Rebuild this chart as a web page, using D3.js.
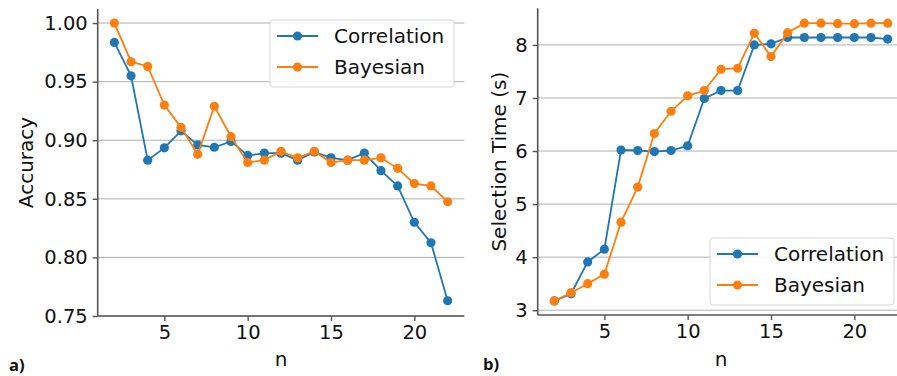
<!DOCTYPE html>
<html>
<head>
<meta charset="utf-8">
<script src="https://cdn.jsdelivr.net/npm/d3@7"></script>
<style>
  body { margin: 0; background: #fff; }
  text { font-family: "DejaVu Sans", sans-serif; fill: #111; }
</style>
</head>
<body>
<div id="chart"></div>
<script>
// data
var nValues = [2, 3, 4, 5, 6, 7, 8, 9, 10, 11, 12, 13, 14, 15, 16, 17, 18, 19, 20, 21, 22];

var accCorrelation = [0.9835, 0.955, 0.883, 0.8935, 0.908, 0.896, 0.894, 0.899, 0.887, 0.889, 0.889,
  0.883, 0.890, 0.885, 0.883, 0.889, 0.874, 0.861, 0.830, 0.8125, 0.763];
var accBayesian = [1.000, 0.967, 0.963, 0.930, 0.911, 0.888, 0.929, 0.903, 0.881, 0.883, 0.8905,
  0.885, 0.8905, 0.881, 0.883, 0.883, 0.885, 0.876, 0.863, 0.861, 0.8475];

var timeCorrelation = [3.175, 3.31, 3.91, 4.15, 6.02, 6.01, 5.99, 6.01, 6.10, 6.99, 7.14,
  7.14, 8.00, 8.02, 8.14, 8.14, 8.14, 8.14, 8.14, 8.14, 8.11];
var timeBayesian = [3.175, 3.33, 3.50, 3.68, 4.66, 5.32, 6.33, 6.75, 7.04, 7.14, 7.54,
  7.56, 8.22, 7.78, 8.23, 8.41, 8.41, 8.40, 8.40, 8.41, 8.41];

var xTicks = [5, 10, 15, 20];
var accTicks = [0.75, 0.80, 0.85, 0.90, 0.95, 1.00];
var timeTicks = [3, 4, 5, 6, 7, 8];
var seriesNames = ["Correlation", "Bayesian"];
var colors = ["#1f77b4", "#ff7f0e"];

var svg = d3.select("#chart")
  .append("svg")
  .attr("width", 897)
  .attr("height", 376);

let panel = (opt) => {
  var x = d3.scaleLinear().domain([1, 23]).range([opt.left, opt.right]);
  var y = d3.scaleLinear().domain(opt.yDomain).range([opt.bottom, opt.top]);
  var g = svg.append("g");

  // horizontal grid
  g.selectAll(".grid")
    .data(opt.yTicks)
    .enter().append("line")
    .attr("x1", opt.left)
    .attr("x2", opt.right)
    .attr("y1", d => y(d))
    .attr("y2", d => y(d))
    .style("stroke", "#b0b0b0")
    .style("stroke-width", 1);

  // axes
  var yAxis = g.append("g")
    .attr("transform", "translate(" + opt.left + ",0)")
    .call(d3.axisLeft(y).tickValues(opt.yTicks).tickFormat(opt.fmt).tickSize(5).tickPadding(5));
  var xAxis = g.append("g")
    .attr("transform", "translate(0," + opt.bottom + ")")
    .call(d3.axisBottom(x).tickValues(xTicks).tickFormat(d3.format("d")).tickSize(5).tickPadding(4));

  [xAxis, yAxis].forEach(a => {
    a.select(".domain").remove();
    a.selectAll("line").style("stroke", "#555").style("stroke-width", 1.4);
    a.selectAll("text")
      .style("font-family", "DejaVu Sans, sans-serif")
      .style("font-size", "19.5px")
      .style("fill", "#111");
  });

  // spines
  g.append("line")
    .attr("x1", opt.left).attr("x2", opt.left)
    .attr("y1", opt.top).attr("y2", opt.bottom)
    .style("stroke", "#555").style("stroke-width", 1.6);
  g.append("line")
    .attr("x1", opt.left).attr("x2", opt.right)
    .attr("y1", opt.bottom).attr("y2", opt.bottom)
    .style("stroke", "#555").style("stroke-width", 1.6);

  // series
  var line = d3.line().x((d, i) => x(nValues[i])).y(d => y(d));
  opt.series.forEach((s, k) => {
    g.append("path")
      .datum(s)
      .attr("d", line)
      .style("fill", "none")
      .style("stroke", colors[k])
      .style("stroke-width", 1.8);
    g.selectAll(".pt" + k)
      .data(s)
      .enter().append("circle")
      .attr("cx", (d, i) => x(nValues[i]))
      .attr("cy", d => y(d))
      .attr("r", 4.6)
      .style("fill", colors[k]);
  });

  // axis labels
  g.append("text")
    .attr("x", (opt.left + opt.right) / 2)
    .attr("y", 366)
    .attr("text-anchor", "middle")
    .style("font-size", "20px")
    .text("n");
  g.append("text")
    .attr("transform", "translate(" + opt.labelX + "," + ((opt.top + opt.bottom) / 2) + ") rotate(-90)")
    .attr("text-anchor", "middle")
    .style("font-size", "20px")
    .text(opt.yLabel);

  // legend
  var lg = g.append("g").attr("transform", "translate(" + opt.legend[0] + "," + opt.legend[1] + ")");
  lg.append("rect")
    .attr("width", 184)
    .attr("height", 67)
    .attr("rx", 3)
    .style("fill", "#fff")
    .style("fill-opacity", 0.85)
    .style("stroke", "#d6d6d6")
    .style("stroke-width", 1);
  seriesNames.forEach((name, k) => {
    var ry = 16 + k * 31;
    lg.append("line")
      .attr("x1", 7).attr("x2", 48)
      .attr("y1", ry).attr("y2", ry)
      .style("stroke", colors[k]).style("stroke-width", 1.8);
    lg.append("circle")
      .attr("cx", 27.5).attr("cy", ry).attr("r", 4.6)
      .style("fill", colors[k]);
    lg.append("text")
      .attr("x", 64)
      .attr("y", ry + 7)
      .style("font-size", "20px")
      .text(name);
  });

  // panel tag
  svg.append("text")
    .attr("x", opt.tag[0])
    .attr("y", opt.tag[1])
    .style("font-family", "Open Sans, sans-serif")
    .style("font-weight", "bold")
    .style("font-size", "16.5px")
    .style("fill", "#111")
    .text(opt.tagText);
};

panel({
  left: 97.7, right: 464.3, top: 9, bottom: 316,
  yDomain: [0.75, 1.012], yTicks: accTicks, fmt: d3.format(".2f"),
  series: [accCorrelation, accBayesian],
  yLabel: "Accuracy", labelX: 33,
  legend: [270, 20], tag: [9, 371], tagText: "a)"
});

panel({
  left: 537.7, right: 904.3, top: 8.3, bottom: 315,
  yDomain: [2.91, 8.69], yTicks: timeTicks, fmt: d3.format("d"),
  series: [timeCorrelation, timeBayesian],
  yLabel: "Selection Time (s)", labelX: 506,
  legend: [710, 238], tag: [483, 370], tagText: "b)"
});
</script>
</body>
</html>
